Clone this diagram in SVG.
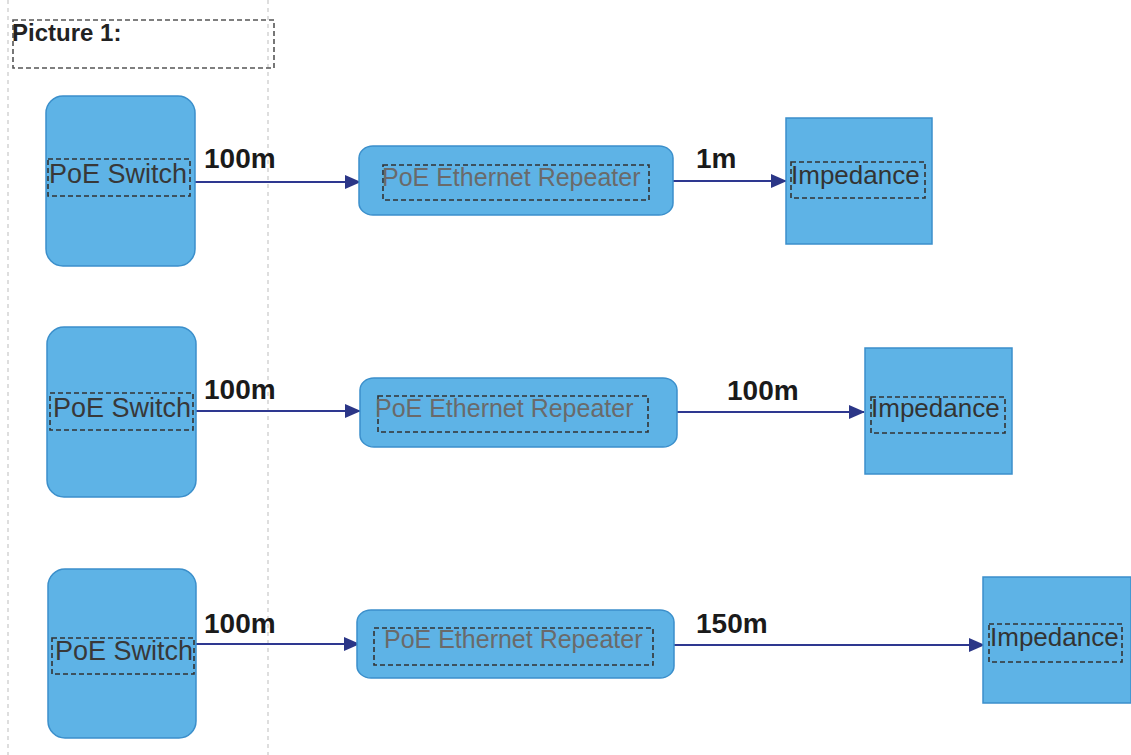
<svg xmlns="http://www.w3.org/2000/svg" width="1131" height="755" viewBox="0 0 1131 755">
<defs>
<marker id="ahL" markerWidth="16" markerHeight="16" refX="15" refY="8" orient="auto" markerUnits="userSpaceOnUse"><path d="M0,1 L16,8 L0,15 Z" fill="#2b3687"/></marker>
</defs>
<style>
.shape{fill:#5eb3e6;stroke:#3b8fcb;stroke-width:1.5}
.lbl{fill:none;stroke:#333;stroke-width:1.6;stroke-dasharray:5 3}
.guide{stroke:#c8c8c8;stroke-width:1.2;stroke-dasharray:4 4;fill:none}
.sw{font-family:"Liberation Sans",Arial,sans-serif;font-size:27px;fill:#383838;text-anchor:middle}
.rp{font-family:"Liberation Sans",Arial,sans-serif;font-size:25px;fill:#6a6a6a}
.im{font-family:"Liberation Sans",Arial,sans-serif;font-size:26px;fill:#333}
.dist{font-family:"Liberation Sans",Arial,sans-serif;font-size:28px;font-weight:bold;fill:#1a1a1a}
.conn{stroke:#2e3890;stroke-width:2;fill:none}
</style>
<rect width="1131" height="755" fill="#fff"/>
<g id="guides">
<line class="guide" x1="8" y1="0" x2="8" y2="755"/>
<line class="guide" x1="268" y1="0" x2="268" y2="755"/>
</g>
<g id="title">
<rect x="13" y="20" width="261" height="48" fill="none" stroke="#555" stroke-width="1.6" stroke-dasharray="5 3"/>
<text x="12" y="41" font-family="Liberation Sans,Arial,sans-serif" font-size="24" font-weight="bold" fill="#222">Picture 1:</text>
</g>
<g id="connectors">
<line class="conn" x1="195" y1="182" x2="360" y2="182" marker-end="url(#ahL)"/>
<line class="conn" x1="673" y1="181" x2="786" y2="181" marker-end="url(#ahL)"/>
<line class="conn" x1="196" y1="411" x2="360" y2="411" marker-end="url(#ahL)"/>
<line class="conn" x1="677" y1="412" x2="864" y2="412" marker-end="url(#ahL)"/>
<line class="conn" x1="196" y1="644" x2="359" y2="644" marker-end="url(#ahL)"/>
<line class="conn" x1="674" y1="645" x2="984" y2="645" marker-end="url(#ahL)"/>
<text class="dist" x="204" y="168">100m</text>
<text class="dist" x="696" y="168">1m</text>
<text class="dist" x="204" y="399">100m</text>
<text class="dist" x="727" y="400">100m</text>
<text class="dist" x="204" y="633">100m</text>
<text class="dist" x="696" y="633">150m</text>
</g>
<g id="switch1">
<rect class="shape" x="46" y="96" width="149" height="170" rx="17"/>
<rect class="lbl" x="48" y="159" width="142" height="37"/>
<text class="sw" x="118" y="183">PoE Switch</text>
</g>
<g id="repeater1">
<rect class="shape" x="359" y="146" width="314" height="69" rx="14" ry="12"/>
<rect class="lbl" x="383" y="165" width="266" height="35"/>
<text class="rp" x="382" y="186">PoE Ethernet Repeater</text>
</g>
<g id="impedance1">
<rect class="shape" x="786" y="118" width="146" height="126"/>
<rect class="lbl" x="791" y="162" width="134" height="36"/>
<text class="im" x="791" y="184">Impedance</text>
</g>
<g id="switch2">
<rect class="shape" x="47" y="327" width="149" height="170" rx="17"/>
<rect class="lbl" x="50" y="393" width="143" height="37"/>
<text class="sw" x="122" y="417">PoE Switch</text>
</g>
<g id="repeater2">
<rect class="shape" x="360" y="378" width="317" height="69" rx="14" ry="12"/>
<rect class="lbl" x="378" y="396" width="270" height="36"/>
<text class="rp" x="375" y="417">PoE Ethernet Repeater</text>
</g>
<g id="impedance2">
<rect class="shape" x="865" y="348" width="147" height="126"/>
<rect class="lbl" x="871" y="397" width="134" height="36"/>
<text class="im" x="871" y="417">Impedance</text>
</g>
<g id="switch3">
<rect class="shape" x="48" y="569" width="148" height="169" rx="17"/>
<rect class="lbl" x="52" y="638" width="142" height="36"/>
<text class="sw" x="124" y="660">PoE Switch</text>
</g>
<g id="repeater3">
<rect class="shape" x="357" y="610" width="317" height="68" rx="14" ry="12"/>
<rect class="lbl" x="374" y="628" width="279" height="37"/>
<text class="rp" x="384" y="648">PoE Ethernet Repeater</text>
</g>
<g id="impedance3">
<rect class="shape" x="983" y="577" width="148" height="126"/>
<rect class="lbl" x="989" y="624" width="133" height="38"/>
<text class="im" x="990" y="646">Impedance</text>
</g>
</svg>
